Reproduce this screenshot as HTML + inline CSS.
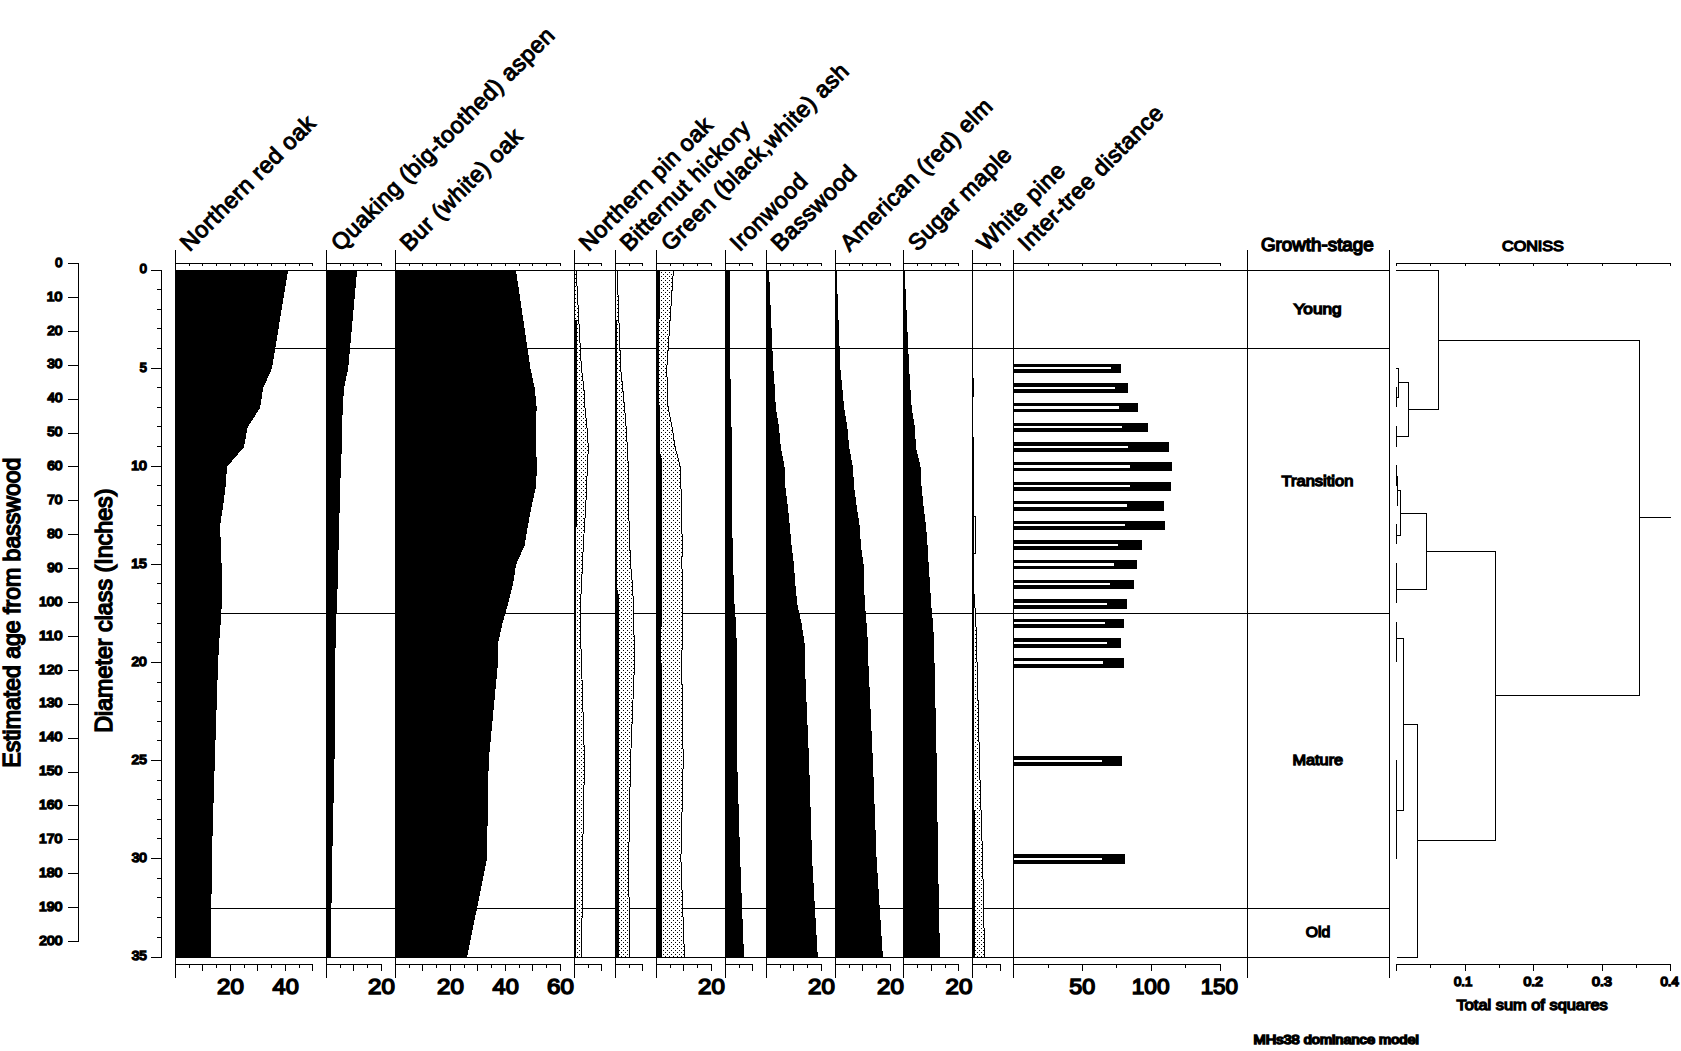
<!DOCTYPE html>
<html lang="en"><head><meta charset="utf-8"><title>MHs38 dominance model</title><style>html,body{margin:0;padding:0;background:#fff}svg{display:block}.blk{fill:#000}text{paint-order:stroke}</style></head><body>
<svg width="1681" height="1051" viewBox="0 0 1681 1051" font-family="'Liberation Sans', sans-serif" fill="#000">
<defs><pattern id="dots" x="0" y="0" width="4" height="4" patternUnits="userSpaceOnUse"><rect x="1" y="0" width="1" height="1" fill="#000"/><rect x="3" y="2" width="1" height="1" fill="#000"/></pattern></defs>
<rect x="0" y="0" width="1681" height="1051" fill="#fff"/>
<g shape-rendering="crispEdges">
<rect x="175" y="348" width="1215" height="1"/>
<rect x="175" y="613" width="1215" height="1"/>
<rect x="175" y="908" width="1215" height="1"/>
<polygon points="574.5,270.5 576.2,270.5 581.4,368.6 583.9,388.22 585,407.84 587,427.46 588.3,447.08 587.5,466.7 586.5,486.32 585.8,505.94 584.5,525.56 583.3,545.18 582.5,564.8 581.5,584.42 580.5,604.04 580.5,623.66 580.8,643.28 581.5,662.9 584.5,761 582.5,859.1 581.7,957.2 574.5,957.2" fill="#fff"/>
<polygon points="574.5,270.5 576.2,270.5 581.4,368.6 583.9,388.22 585,407.84 587,427.46 588.3,447.08 587.5,466.7 586.5,486.32 585.8,505.94 584.5,525.56 583.3,545.18 582.5,564.8 581.5,584.42 580.5,604.04 580.5,623.66 580.8,643.28 581.5,662.9 584.5,761 582.5,859.1 581.7,957.2 574.5,957.2" fill="url(#dots)" stroke="#000" stroke-width="1"/>
<polygon points="615.5,270.5 617.1,270.5 620.7,368.6 622.7,388.22 624.6,407.84 626.1,427.46 627.3,447.08 628.3,466.7 628.5,486.32 628.7,505.94 629.1,525.56 629.8,545.18 630.6,564.8 632.4,584.42 633.4,604.04 633.9,623.66 634.1,643.28 634.5,662.9 630.5,761 628.7,859.1 629.5,957.2 615.5,957.2" fill="#fff"/>
<polygon points="615.5,270.5 617.1,270.5 620.7,368.6 622.7,388.22 624.6,407.84 626.1,427.46 627.3,447.08 628.3,466.7 628.5,486.32 628.7,505.94 629.1,525.56 629.8,545.18 630.6,564.8 632.4,584.42 633.4,604.04 633.9,623.66 634.1,643.28 634.5,662.9 630.5,761 628.7,859.1 629.5,957.2 615.5,957.2" fill="url(#dots)" stroke="#000" stroke-width="1"/>
<polygon points="656.5,270.5 673.4,270.5 666.8,368.6 667.3,388.22 668.1,407.84 672.1,427.46 675.1,447.08 680.2,466.7 680.9,486.32 681.7,505.94 681.9,525.56 682.2,545.18 681.9,564.8 682.4,584.42 682.7,604.04 682.7,623.66 682.2,643.28 681.7,662.9 683.2,761 680.9,859.1 684.5,957.2 656.5,957.2" fill="#fff"/>
<polygon points="656.5,270.5 673.4,270.5 666.8,368.6 667.3,388.22 668.1,407.84 672.1,427.46 675.1,447.08 680.2,466.7 680.9,486.32 681.7,505.94 681.9,525.56 682.2,545.18 681.9,564.8 682.4,584.42 682.7,604.04 682.7,623.66 682.2,643.28 681.7,662.9 683.2,761 680.9,859.1 684.5,957.2 656.5,957.2" fill="url(#dots)" stroke="#000" stroke-width="1"/>
<polygon points="972.5,594 974.5,594 975.2,613 976.4,634 977.4,679 978.4,712 979.4,761 982.6,859.1 984.6,957.2 972.5,957.2" fill="#fff"/>
<polygon points="972.5,594 974.5,594 975.2,613 976.4,634 977.4,679 978.4,712 979.4,761 982.6,859.1 984.6,957.2 972.5,957.2" fill="url(#dots)" stroke="#000" stroke-width="1"/>
<rect x="974" y="516" width="2" height="1"/><rect x="975" y="516" width="1" height="38"/><rect x="974" y="553" width="2" height="1"/>
<polygon class="blk" points="175,270.5 288.1,270.5 271.9,368.6 263.1,388.22 260.1,407.84 247.6,427.46 243.9,447.08 227.1,466.7 225.6,486.32 223.1,505.94 220.1,525.56 220.8,545.18 221.6,564.8 221.8,584.42 221.8,604.04 220.6,623.66 219.1,643.28 218.1,662.9 214.8,761 211.8,859.1 211,957.2 175,957.2"/>
<polygon class="blk" points="326,270.5 357.1,270.5 348.2,368.6 344,388.22 342.7,407.84 342.2,427.46 341.8,447.08 341,466.7 340.2,486.32 339.7,505.94 339.2,525.56 338.7,545.18 338,564.8 337.7,584.42 337,604.04 336,623.66 335.7,643.28 335,662.9 334.5,761 332.2,859.1 330.7,957.2 326,957.2"/>
<polygon class="blk" points="395,270.5 516,270.5 530.5,368.6 534.7,388.22 536.7,407.84 535.5,427.46 536,447.08 537,466.7 536,486.32 531.7,505.94 528,525.56 524.7,545.18 516,564.8 513,584.42 508,604.04 502.4,623.66 498,643.28 498,662.9 488.7,761 486.9,859.1 467.1,957.2 395,957.2"/>
<polygon class="blk" points="725,270.5 730,270.5 730.3,368.6 730.7,388.22 731.1,407.84 731.5,427.46 731.7,447.08 731.8,466.7 732,486.32 732.1,505.94 732.2,525.56 732.7,545.18 733.2,564.8 733.8,584.42 734.5,604.04 736,623.66 736.7,643.28 736.7,662.9 737.2,761 740.2,859.1 744,957.2 725,957.2"/>
<polygon class="blk" points="766,270.5 769,270.5 773.3,368.6 774.8,388.22 775.8,407.84 779,427.46 780.8,447.08 784.5,466.7 785.3,486.32 787.8,505.94 789.8,525.56 791.5,545.18 794,564.8 795.3,584.42 797.3,604.04 801.6,623.66 804.6,643.28 804.8,662.9 809.1,761 812.1,859.1 817.8,957.2 766,957.2"/>
<polygon class="blk" points="835,270.5 836.6,270.5 840.4,368.6 842.4,388.22 844.1,407.84 847.4,427.46 849.1,447.08 852.9,466.7 854.1,486.32 856.6,505.94 859.6,525.56 860.9,545.18 863.6,564.8 864.1,584.42 864.9,604.04 866.6,623.66 867.9,643.28 868.4,662.9 872.9,761 876.6,859.1 882.9,957.2 835,957.2"/>
<polygon class="blk" points="903,270.5 904.7,270.5 909.2,368.6 910.4,388.22 911.7,407.84 914.9,427.46 915.9,447.08 920.5,466.7 921.5,486.32 923.5,505.94 926,525.56 927.5,545.18 928.7,564.8 930,584.42 931.2,604.04 933,623.66 934.2,643.28 934.5,662.9 936.7,761 938,859.1 940,957.2 903,957.2"/>
<polygon class="blk" points="574,320 575,320 576.6,320 576.6,525 576,535 576,957.2 574,957.2"/>
<polygon class="blk" points="615,320 616,320 617,320 617.5,590 619,596 619,957.2 615,957.2"/>
<polygon class="blk" points="656,270.5 660,270.5 660,317 659,320 659.6,420 659.8,452 661.6,458 661.5,662.9 662,957.2 656,957.2"/>
<polygon class="blk" points="972,378 973,378 974,378 974,397 973,397 973,437 974,437 974,810 975,810 975,957.2 972,957.2"/>
<rect x="1013" y="364" width="108" height="9"/>
<rect x="1014" y="367" width="97.25" height="2" fill="#fff"/>
<rect x="1013" y="383" width="115" height="10"/>
<rect x="1014" y="387" width="101.25" height="2" fill="#fff"/>
<rect x="1013" y="403" width="125" height="9"/>
<rect x="1014" y="406" width="105" height="3" fill="#fff"/>
<rect x="1013" y="423" width="135" height="9"/>
<rect x="1014" y="426" width="108.25" height="2" fill="#fff"/>
<rect x="1013" y="442" width="156" height="10"/>
<rect x="1014" y="446" width="114" height="2" fill="#fff"/>
<rect x="1013" y="462" width="159" height="9"/>
<rect x="1014" y="465" width="116.25" height="3" fill="#fff"/>
<rect x="1013" y="482" width="158" height="9"/>
<rect x="1014" y="485" width="116" height="2" fill="#fff"/>
<rect x="1013" y="501" width="151" height="10"/>
<rect x="1014" y="504" width="113" height="3" fill="#fff"/>
<rect x="1013" y="521" width="152" height="9"/>
<rect x="1014" y="524" width="111" height="2" fill="#fff"/>
<rect x="1013" y="540" width="129" height="10"/>
<rect x="1014" y="544" width="104" height="2" fill="#fff"/>
<rect x="1013" y="560" width="124" height="9"/>
<rect x="1014" y="563" width="100" height="3" fill="#fff"/>
<rect x="1013" y="580" width="121" height="9"/>
<rect x="1014" y="583" width="96" height="2" fill="#fff"/>
<rect x="1013" y="599" width="114" height="10"/>
<rect x="1014" y="603" width="93" height="2" fill="#fff"/>
<rect x="1013" y="619" width="111" height="9"/>
<rect x="1014" y="622" width="91" height="2" fill="#fff"/>
<rect x="1013" y="638" width="108" height="10"/>
<rect x="1014" y="642" width="93" height="2" fill="#fff"/>
<rect x="1013" y="658" width="111" height="10"/>
<rect x="1014" y="661" width="89" height="3" fill="#fff"/>
<rect x="1013" y="756" width="109" height="10"/>
<rect x="1014" y="760" width="88" height="2" fill="#fff"/>
<rect x="1013" y="854" width="112" height="10"/>
<rect x="1014" y="858" width="88" height="2" fill="#fff"/>
<rect x="175" y="270" width="1215" height="1"/>
<rect x="175" y="957" width="1215" height="1"/>
</g>
<g shape-rendering="crispEdges">
<rect x="175" y="250" width="1" height="728"/>
<rect x="189" y="264" width="1" height="2"/>
<rect x="202" y="264" width="1" height="2"/>
<rect x="216" y="264" width="1" height="2"/>
<rect x="230" y="264" width="1" height="2"/>
<rect x="244" y="264" width="1" height="2"/>
<rect x="257" y="264" width="1" height="2"/>
<rect x="271" y="264" width="1" height="2"/>
<rect x="285" y="264" width="1" height="2"/>
<rect x="299" y="264" width="1" height="2"/>
<rect x="312" y="264" width="1" height="2"/>
<rect x="175" y="263" width="138" height="1"/>
<rect x="189" y="965" width="1" height="3"/>
<rect x="202" y="965" width="1" height="6"/>
<rect x="216" y="965" width="1" height="3"/>
<rect x="230" y="965" width="1" height="6"/>
<rect x="244" y="965" width="1" height="3"/>
<rect x="257" y="965" width="1" height="6"/>
<rect x="271" y="965" width="1" height="3"/>
<rect x="285" y="965" width="1" height="6"/>
<rect x="299" y="965" width="1" height="3"/>
<rect x="312" y="965" width="1" height="6"/>
<rect x="175" y="964" width="138" height="1"/>
<rect x="326" y="250" width="1" height="728"/>
<rect x="340" y="264" width="1" height="2"/>
<rect x="353" y="264" width="1" height="2"/>
<rect x="367" y="264" width="1" height="2"/>
<rect x="381" y="264" width="1" height="2"/>
<rect x="326" y="263" width="56" height="1"/>
<rect x="340" y="965" width="1" height="3"/>
<rect x="353" y="965" width="1" height="6"/>
<rect x="367" y="965" width="1" height="3"/>
<rect x="381" y="965" width="1" height="6"/>
<rect x="326" y="964" width="56" height="1"/>
<rect x="395" y="250" width="1" height="728"/>
<rect x="409" y="264" width="1" height="2"/>
<rect x="422" y="264" width="1" height="2"/>
<rect x="436" y="264" width="1" height="2"/>
<rect x="450" y="264" width="1" height="2"/>
<rect x="464" y="264" width="1" height="2"/>
<rect x="477" y="264" width="1" height="2"/>
<rect x="491" y="264" width="1" height="2"/>
<rect x="505" y="264" width="1" height="2"/>
<rect x="519" y="264" width="1" height="2"/>
<rect x="532" y="264" width="1" height="2"/>
<rect x="546" y="264" width="1" height="2"/>
<rect x="560" y="264" width="1" height="2"/>
<rect x="395" y="263" width="166" height="1"/>
<rect x="409" y="965" width="1" height="3"/>
<rect x="422" y="965" width="1" height="6"/>
<rect x="436" y="965" width="1" height="3"/>
<rect x="450" y="965" width="1" height="6"/>
<rect x="464" y="965" width="1" height="3"/>
<rect x="477" y="965" width="1" height="6"/>
<rect x="491" y="965" width="1" height="3"/>
<rect x="505" y="965" width="1" height="6"/>
<rect x="519" y="965" width="1" height="3"/>
<rect x="532" y="965" width="1" height="6"/>
<rect x="546" y="965" width="1" height="3"/>
<rect x="560" y="965" width="1" height="6"/>
<rect x="395" y="964" width="166" height="1"/>
<rect x="574" y="250" width="1" height="728"/>
<rect x="588" y="264" width="1" height="2"/>
<rect x="601" y="264" width="1" height="2"/>
<rect x="574" y="263" width="28" height="1"/>
<rect x="588" y="965" width="1" height="3"/>
<rect x="601" y="965" width="1" height="6"/>
<rect x="574" y="964" width="28" height="1"/>
<rect x="615" y="250" width="1" height="728"/>
<rect x="629" y="264" width="1" height="2"/>
<rect x="642" y="264" width="1" height="2"/>
<rect x="615" y="263" width="28" height="1"/>
<rect x="629" y="965" width="1" height="3"/>
<rect x="642" y="965" width="1" height="6"/>
<rect x="615" y="964" width="28" height="1"/>
<rect x="656" y="250" width="1" height="728"/>
<rect x="670" y="264" width="1" height="2"/>
<rect x="683" y="264" width="1" height="2"/>
<rect x="697" y="264" width="1" height="2"/>
<rect x="711" y="264" width="1" height="2"/>
<rect x="656" y="263" width="56" height="1"/>
<rect x="670" y="965" width="1" height="3"/>
<rect x="683" y="965" width="1" height="6"/>
<rect x="697" y="965" width="1" height="3"/>
<rect x="711" y="965" width="1" height="6"/>
<rect x="656" y="964" width="56" height="1"/>
<rect x="725" y="250" width="1" height="728"/>
<rect x="739" y="264" width="1" height="2"/>
<rect x="752" y="264" width="1" height="2"/>
<rect x="725" y="263" width="28" height="1"/>
<rect x="739" y="965" width="1" height="3"/>
<rect x="752" y="965" width="1" height="6"/>
<rect x="725" y="964" width="28" height="1"/>
<rect x="766" y="250" width="1" height="728"/>
<rect x="780" y="264" width="1" height="2"/>
<rect x="793" y="264" width="1" height="2"/>
<rect x="807" y="264" width="1" height="2"/>
<rect x="821" y="264" width="1" height="2"/>
<rect x="766" y="263" width="56" height="1"/>
<rect x="780" y="965" width="1" height="3"/>
<rect x="793" y="965" width="1" height="6"/>
<rect x="807" y="965" width="1" height="3"/>
<rect x="821" y="965" width="1" height="6"/>
<rect x="766" y="964" width="56" height="1"/>
<rect x="835" y="250" width="1" height="728"/>
<rect x="849" y="264" width="1" height="2"/>
<rect x="862" y="264" width="1" height="2"/>
<rect x="876" y="264" width="1" height="2"/>
<rect x="890" y="264" width="1" height="2"/>
<rect x="835" y="263" width="56" height="1"/>
<rect x="849" y="965" width="1" height="3"/>
<rect x="862" y="965" width="1" height="6"/>
<rect x="876" y="965" width="1" height="3"/>
<rect x="890" y="965" width="1" height="6"/>
<rect x="835" y="964" width="56" height="1"/>
<rect x="903" y="250" width="1" height="728"/>
<rect x="917" y="264" width="1" height="2"/>
<rect x="931" y="264" width="1" height="2"/>
<rect x="945" y="264" width="1" height="2"/>
<rect x="958" y="264" width="1" height="2"/>
<rect x="903" y="263" width="56" height="1"/>
<rect x="917" y="965" width="1" height="3"/>
<rect x="931" y="965" width="1" height="6"/>
<rect x="945" y="965" width="1" height="3"/>
<rect x="958" y="965" width="1" height="6"/>
<rect x="903" y="964" width="56" height="1"/>
<rect x="972" y="250" width="1" height="728"/>
<rect x="986" y="264" width="1" height="2"/>
<rect x="1000" y="264" width="1" height="2"/>
<rect x="972" y="263" width="29" height="1"/>
<rect x="986" y="965" width="1" height="3"/>
<rect x="1000" y="965" width="1" height="6"/>
<rect x="972" y="964" width="29" height="1"/>
<rect x="1013" y="250" width="1" height="728"/>
<rect x="1048" y="264" width="1" height="2"/>
<rect x="1082" y="264" width="1" height="2"/>
<rect x="1116" y="264" width="1" height="2"/>
<rect x="1151" y="264" width="1" height="2"/>
<rect x="1185" y="264" width="1" height="2"/>
<rect x="1220" y="264" width="1" height="2"/>
<rect x="1013" y="263" width="208" height="1"/>
<rect x="1048" y="965" width="1" height="3"/>
<rect x="1082" y="965" width="1" height="6"/>
<rect x="1116" y="965" width="1" height="3"/>
<rect x="1151" y="965" width="1" height="6"/>
<rect x="1185" y="965" width="1" height="3"/>
<rect x="1220" y="965" width="1" height="6"/>
<rect x="1013" y="964" width="208" height="1"/>
<rect x="1247" y="250" width="1" height="728"/>
<rect x="1389" y="250" width="1" height="728"/>
<rect x="161" y="270" width="1" height="688"/>
<rect x="151" y="270" width="10" height="1"/>
<rect x="157" y="289" width="4" height="1"/>
<rect x="157" y="309" width="4" height="1"/>
<rect x="157" y="328" width="4" height="1"/>
<rect x="157" y="348" width="4" height="1"/>
<rect x="151" y="368" width="10" height="1"/>
<rect x="157" y="387" width="4" height="1"/>
<rect x="157" y="407" width="4" height="1"/>
<rect x="157" y="426" width="4" height="1"/>
<rect x="157" y="446" width="4" height="1"/>
<rect x="151" y="466" width="10" height="1"/>
<rect x="157" y="485" width="4" height="1"/>
<rect x="157" y="505" width="4" height="1"/>
<rect x="157" y="525" width="4" height="1"/>
<rect x="157" y="544" width="4" height="1"/>
<rect x="151" y="564" width="10" height="1"/>
<rect x="157" y="583" width="4" height="1"/>
<rect x="157" y="603" width="4" height="1"/>
<rect x="157" y="623" width="4" height="1"/>
<rect x="157" y="642" width="4" height="1"/>
<rect x="151" y="662" width="10" height="1"/>
<rect x="157" y="682" width="4" height="1"/>
<rect x="157" y="701" width="4" height="1"/>
<rect x="157" y="721" width="4" height="1"/>
<rect x="157" y="740" width="4" height="1"/>
<rect x="151" y="760" width="10" height="1"/>
<rect x="157" y="780" width="4" height="1"/>
<rect x="157" y="799" width="4" height="1"/>
<rect x="157" y="819" width="4" height="1"/>
<rect x="157" y="838" width="4" height="1"/>
<rect x="151" y="858" width="10" height="1"/>
<rect x="157" y="878" width="4" height="1"/>
<rect x="157" y="897" width="4" height="1"/>
<rect x="157" y="917" width="4" height="1"/>
<rect x="157" y="937" width="4" height="1"/>
<rect x="151" y="957" width="10" height="1"/>
<rect x="78" y="263" width="1" height="679"/>
<rect x="68" y="263" width="10" height="1"/>
<rect x="68" y="297" width="10" height="1"/>
<rect x="68" y="331" width="10" height="1"/>
<rect x="68" y="365" width="10" height="1"/>
<rect x="68" y="399" width="10" height="1"/>
<rect x="68" y="433" width="10" height="1"/>
<rect x="68" y="466" width="10" height="1"/>
<rect x="68" y="500" width="10" height="1"/>
<rect x="68" y="534" width="10" height="1"/>
<rect x="68" y="568" width="10" height="1"/>
<rect x="68" y="602" width="10" height="1"/>
<rect x="68" y="636" width="10" height="1"/>
<rect x="68" y="670" width="10" height="1"/>
<rect x="68" y="704" width="10" height="1"/>
<rect x="68" y="738" width="10" height="1"/>
<rect x="68" y="772" width="10" height="1"/>
<rect x="68" y="805" width="10" height="1"/>
<rect x="68" y="839" width="10" height="1"/>
<rect x="68" y="873" width="10" height="1"/>
<rect x="68" y="907" width="10" height="1"/>
<rect x="68" y="941" width="10" height="1"/>
<rect x="1396" y="263" width="275" height="1"/>
<rect x="1396" y="964" width="275" height="1"/>
<rect x="1396" y="264" width="1" height="2"/>
<rect x="1396" y="965" width="1" height="6"/>
<rect x="1430" y="264" width="1" height="2"/>
<rect x="1430" y="965" width="1" height="3"/>
<rect x="1465" y="264" width="1" height="2"/>
<rect x="1465" y="965" width="1" height="6"/>
<rect x="1499" y="264" width="1" height="2"/>
<rect x="1499" y="965" width="1" height="3"/>
<rect x="1533" y="264" width="1" height="2"/>
<rect x="1533" y="965" width="1" height="6"/>
<rect x="1567" y="264" width="1" height="2"/>
<rect x="1567" y="965" width="1" height="3"/>
<rect x="1602" y="264" width="1" height="2"/>
<rect x="1602" y="965" width="1" height="6"/>
<rect x="1636" y="264" width="1" height="2"/>
<rect x="1636" y="965" width="1" height="3"/>
<rect x="1670" y="264" width="1" height="2"/>
<rect x="1670" y="965" width="1" height="6"/>
</g>
<g fill="none" stroke="#000" stroke-width="1" shape-rendering="crispEdges">
<path d="M1396.5 387L1396.5 407"/>
<path d="M1396 368.5L1398.5 368.5"/>
<path d="M1396.5 397.5L1398.5 397.5"/>
<path d="M1398.5 368L1398.5 398"/>
<path d="M1396.5 426L1396.5 447"/>
<path d="M1398.2 382.5L1408.5 382.5"/>
<path d="M1396.5 436.5L1408.5 436.5"/>
<path d="M1408.5 382L1408.5 437"/>
<path d="M1396 270.5L1438.5 270.5"/>
<path d="M1408.5 409.5L1438.5 409.5"/>
<path d="M1438.5 270L1438.5 410"/>
<path d="M1396.5 465L1396.5 486"/>
<path d="M1396 476.5L1397.5 476.5"/>
<path d="M1396.5 505.5L1397.5 505.5"/>
<path d="M1397.5 476L1397.5 506"/>
<path d="M1396.5 524L1396.5 544"/>
<path d="M1397 490.5L1400.5 490.5"/>
<path d="M1396.5 535.5L1400.5 535.5"/>
<path d="M1400.5 490L1400.5 536"/>
<path d="M1396.5 563L1396.5 603"/>
<path d="M1400.2 513.5L1426.5 513.5"/>
<path d="M1396.5 589.5L1426.5 589.5"/>
<path d="M1426.5 513L1426.5 590"/>
<path d="M1396.5 622L1396.5 662"/>
<path d="M1396.5 760L1396.5 859"/>
<path d="M1396 638.5L1403.5 638.5"/>
<path d="M1396.5 810.5L1403.5 810.5"/>
<path d="M1403.5 638L1403.5 811"/>
<path d="M1403 724.5L1417.5 724.5"/>
<path d="M1396.5 957.5L1417.5 957.5"/>
<path d="M1417.5 724L1417.5 958"/>
<path d="M1426 551.5L1495.5 551.5"/>
<path d="M1417.4 840.5L1495.5 840.5"/>
<path d="M1495.5 551L1495.5 841"/>
<path d="M1438 340.5L1639.5 340.5"/>
<path d="M1495.7 695.5L1639.5 695.5"/>
<path d="M1639.5 340L1639.5 696"/>
<path d="M1639.5 517.5L1670.5 517.5"/>
</g>
<text transform="translate(189.4 252.2) rotate(-45)" font-size="23" letter-spacing="0.5" stroke="#000" stroke-width="1.05">Northern red oak</text>
<text transform="translate(340.4 252.2) rotate(-45)" font-size="23" letter-spacing="0.5" stroke="#000" stroke-width="1.05">Quaking (big-toothed) aspen</text>
<text transform="translate(409.4 252.2) rotate(-45)" font-size="23" letter-spacing="0.5" stroke="#000" stroke-width="1.05">Bur (white) oak</text>
<text transform="translate(588.4 252.2) rotate(-45)" font-size="23" letter-spacing="0.5" stroke="#000" stroke-width="1.05">Northern pin oak</text>
<text transform="translate(629.4 252.2) rotate(-45)" font-size="23" letter-spacing="0.5" stroke="#000" stroke-width="1.05">Bitternut hickory</text>
<text transform="translate(670.4 252.2) rotate(-45)" font-size="23" letter-spacing="0.5" stroke="#000" stroke-width="1.05">Green (black,white) ash</text>
<text transform="translate(739.4 252.2) rotate(-45)" font-size="23" letter-spacing="0.5" stroke="#000" stroke-width="1.05">Ironwood</text>
<text transform="translate(780.4 252.2) rotate(-45)" font-size="23" letter-spacing="0.5" stroke="#000" stroke-width="1.05">Basswood</text>
<text transform="translate(849.4 252.2) rotate(-45)" font-size="23" letter-spacing="0.5" stroke="#000" stroke-width="1.05">American (red) elm</text>
<text transform="translate(917.4 252.2) rotate(-45)" font-size="23" letter-spacing="0.5" stroke="#000" stroke-width="1.05">Sugar maple</text>
<text transform="translate(986.4 252.2) rotate(-45)" font-size="23" letter-spacing="0.5" stroke="#000" stroke-width="1.05">White pine</text>
<text transform="translate(1027.4 252.2) rotate(-45)" font-size="23" letter-spacing="0.5" stroke="#000" stroke-width="1.05">Inter-tree distance</text>
<text transform="translate(216.97 994.33) scale(1.0961 1)" font-size="22" stroke="#000" stroke-width="1.5">20</text>
<text transform="translate(272.62 994.33) scale(1.0691 1)" font-size="22" stroke="#000" stroke-width="1.5">40</text>
<text transform="translate(367.97 994.33) scale(1.0961 1)" font-size="22" stroke="#000" stroke-width="1.5">20</text>
<text transform="translate(436.97 994.33) scale(1.0961 1)" font-size="22" stroke="#000" stroke-width="1.5">20</text>
<text transform="translate(492.62 994.33) scale(1.0691 1)" font-size="22" stroke="#000" stroke-width="1.5">40</text>
<text transform="translate(546.97 994.33) scale(1.0961 1)" font-size="22" stroke="#000" stroke-width="1.5">60</text>
<text transform="translate(697.97 994.33) scale(1.0961 1)" font-size="22" stroke="#000" stroke-width="1.5">20</text>
<text transform="translate(807.97 994.33) scale(1.0961 1)" font-size="22" stroke="#000" stroke-width="1.5">20</text>
<text transform="translate(876.97 994.33) scale(1.0961 1)" font-size="22" stroke="#000" stroke-width="1.5">20</text>
<text transform="translate(945.47 994.33) scale(1.0961 1)" font-size="22" stroke="#000" stroke-width="1.5">20</text>
<text transform="translate(1069.31 994.33) scale(1.0572 1)" font-size="22" stroke="#000" stroke-width="1.5">50</text>
<text transform="translate(1131.67 994.33) scale(1.0305 1)" font-size="22" stroke="#000" stroke-width="1.5">100</text>
<text transform="translate(1200.63 994.33) scale(1.0193 1)" font-size="22" stroke="#000" stroke-width="1.5">150</text>
<text transform="translate(139.67 273.05) scale(1.0656 1)" font-size="11.9" stroke="#000" stroke-width="1.45">0</text>
<text transform="translate(139.67 371.85) scale(1.0700 1)" font-size="11.9" stroke="#000" stroke-width="1.45">5</text>
<text transform="translate(131.2 469.95) scale(1.1711 1)" font-size="11.9" stroke="#000" stroke-width="1.45">10</text>
<text transform="translate(131.2 568.05) scale(1.1738 1)" font-size="11.9" stroke="#000" stroke-width="1.45">15</text>
<text transform="translate(131.55 666.15) scale(1.1456 1)" font-size="11.9" stroke="#000" stroke-width="1.45">20</text>
<text transform="translate(131.55 764.25) scale(1.1481 1)" font-size="11.9" stroke="#000" stroke-width="1.45">25</text>
<text transform="translate(131.72 862.35) scale(1.1332 1)" font-size="11.9" stroke="#000" stroke-width="1.45">30</text>
<text transform="translate(131.72 960.45) scale(1.1356 1)" font-size="11.9" stroke="#000" stroke-width="1.45">35</text>
<text transform="translate(55.27 266.75) scale(1.0656 1)" font-size="11.9" stroke="#000" stroke-width="1.45">0</text>
<text transform="translate(46.8 300.65) scale(1.1711 1)" font-size="11.9" stroke="#000" stroke-width="1.45">10</text>
<text transform="translate(47.15 334.55) scale(1.1456 1)" font-size="11.9" stroke="#000" stroke-width="1.45">20</text>
<text transform="translate(47.32 368.45) scale(1.1332 1)" font-size="11.9" stroke="#000" stroke-width="1.45">30</text>
<text transform="translate(47.51 402.35) scale(1.1187 1)" font-size="11.9" stroke="#000" stroke-width="1.45">40</text>
<text transform="translate(47.28 436.25) scale(1.1356 1)" font-size="11.9" stroke="#000" stroke-width="1.45">50</text>
<text transform="translate(47.15 470.15) scale(1.1456 1)" font-size="11.9" stroke="#000" stroke-width="1.45">60</text>
<text transform="translate(47.15 504.05) scale(1.1456 1)" font-size="11.9" stroke="#000" stroke-width="1.45">70</text>
<text transform="translate(47.25 537.95) scale(1.1381 1)" font-size="11.9" stroke="#000" stroke-width="1.45">80</text>
<text transform="translate(47.18 571.85) scale(1.1431 1)" font-size="11.9" stroke="#000" stroke-width="1.45">90</text>
<text transform="translate(39 605.75) scale(1.1727 1)" font-size="11.9" stroke="#000" stroke-width="1.45">100</text>
<text transform="translate(38.99 639.65) scale(1.2276 1)" font-size="11.9" stroke="#000" stroke-width="1.45">110</text>
<text transform="translate(39 673.55) scale(1.1727 1)" font-size="11.9" stroke="#000" stroke-width="1.45">120</text>
<text transform="translate(39 707.45) scale(1.1727 1)" font-size="11.9" stroke="#000" stroke-width="1.45">130</text>
<text transform="translate(39 741.35) scale(1.1727 1)" font-size="11.9" stroke="#000" stroke-width="1.45">140</text>
<text transform="translate(39 775.25) scale(1.1727 1)" font-size="11.9" stroke="#000" stroke-width="1.45">150</text>
<text transform="translate(39 809.15) scale(1.1727 1)" font-size="11.9" stroke="#000" stroke-width="1.45">160</text>
<text transform="translate(39 843.05) scale(1.1727 1)" font-size="11.9" stroke="#000" stroke-width="1.45">170</text>
<text transform="translate(39 876.95) scale(1.1727 1)" font-size="11.9" stroke="#000" stroke-width="1.45">180</text>
<text transform="translate(39 910.85) scale(1.1727 1)" font-size="11.9" stroke="#000" stroke-width="1.45">190</text>
<text transform="translate(39.35 944.75) scale(1.1554 1)" font-size="11.9" stroke="#000" stroke-width="1.45">200</text>
<text transform="translate(112 731.6) rotate(-90) translate(-1.19 0) scale(1.0116 1)" font-size="23" stroke="#000" stroke-width="1.45">Diameter class (Inches)</text>
<text transform="translate(19.6 766.5) rotate(-90) translate(-1.18 0) scale(1.0030 1)" font-size="23" stroke="#000" stroke-width="1.45">Estimated age from basswood</text>
<text transform="translate(1260.98 251.07) scale(1.0325 1)" font-size="18.2" stroke="#000" stroke-width="1.4">Growth-stage</text>
<text transform="translate(1502 251.11) scale(1.0909 1)" font-size="14.8" stroke="#000" stroke-width="1.3">CONISS</text>
<text transform="translate(1293.47 314.22) scale(1.1630 1)" font-size="14.8" stroke="#000" stroke-width="1.3">Young</text>
<text transform="translate(1281.55 486.12) scale(1.1154 1)" font-size="14.8" stroke="#000" stroke-width="1.3">Transition</text>
<text transform="translate(1292.47 765.21) scale(1.0994 1)" font-size="14.8" stroke="#000" stroke-width="1.3">Mature</text>
<text transform="translate(1305.84 937.12) scale(1.0623 1)" font-size="14.8" stroke="#000" stroke-width="1.3">Old</text>
<text transform="translate(1453.98 986.25) scale(1.1092 1)" font-size="11.9" stroke="#000" stroke-width="1.45">0.1</text>
<text transform="translate(1523.39 986.25) scale(1.1820 1)" font-size="11.9" stroke="#000" stroke-width="1.45">0.2</text>
<text transform="translate(1592.1 986.25) scale(1.1935 1)" font-size="11.9" stroke="#000" stroke-width="1.45">0.3</text>
<text transform="translate(1660.38 986.25) scale(1.1171 1)" font-size="11.9" stroke="#000" stroke-width="1.45">0.4</text>
<text transform="translate(1456.55 1010.01) scale(1.1079 1)" font-size="14.8" stroke="#000" stroke-width="1.3">Total sum of squares</text>
<text transform="translate(1253.52 1043.83) scale(1.2260 1)" font-size="11.9" stroke="#000" stroke-width="1.5">MHs38 dominance model</text>
</svg>
</body></html>
